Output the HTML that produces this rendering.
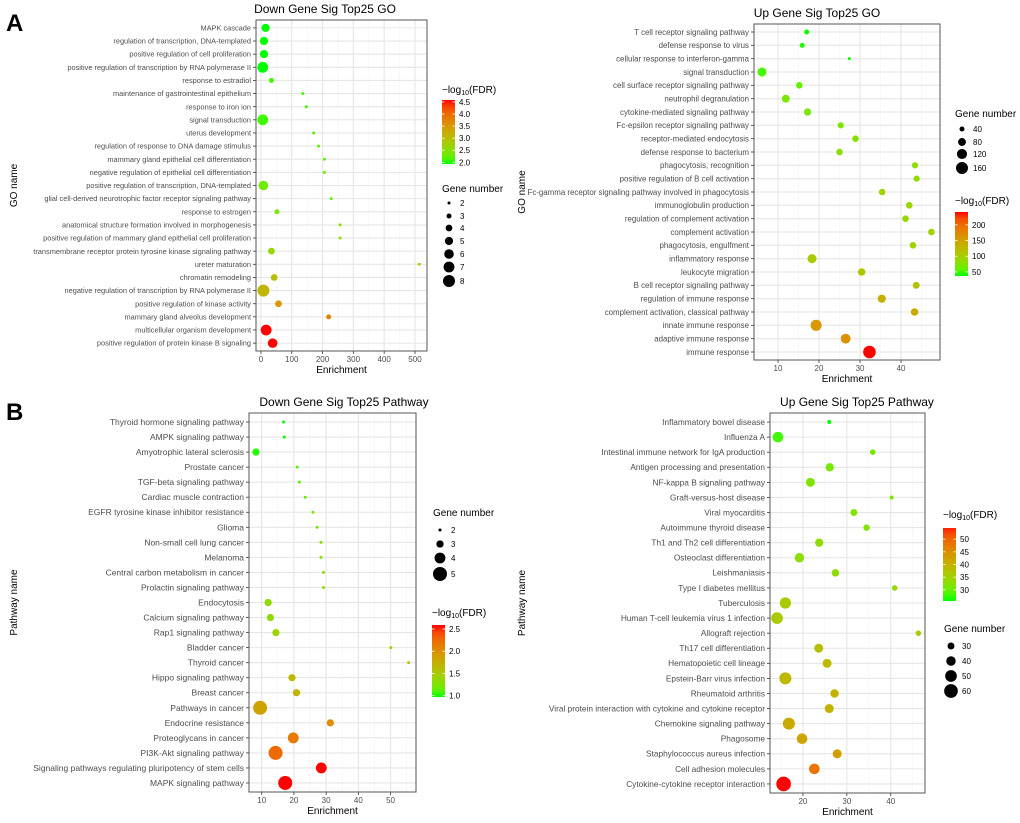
<!DOCTYPE html>
<html><head><meta charset="utf-8"><style>
html,body{margin:0;padding:0;background:#fff}
svg{display:block;font-family:"Liberation Sans",Arial,sans-serif}
</style></head><body>
<svg id="fig" width="1020" height="823" viewBox="0 0 1020 823" xmlns="http://www.w3.org/2000/svg">
<text x="6" y="31" font-size="24" font-weight="bold">A</text>
<text x="6" y="420" font-size="24" font-weight="bold">B</text>
</svg>
<script>
// ---- Panel A left: Down GO ----
const dgLabels=["MAPK cascade","regulation of transcription, DNA-templated","positive regulation of cell proliferation","positive regulation of transcription by RNA polymerase II","response to estradiol","maintenance of gastrointestinal epithelium","response to iron ion","signal transduction","uterus development","regulation of response to DNA damage stimulus","mammary gland epithelial cell differentiation","negative regulation of epithelial cell differentiation","positive regulation of transcription, DNA-templated","glial cell-derived neurotrophic factor receptor signaling pathway","response to estrogen","anatomical structure formation involved in morphogenesis","positive regulation of mammary gland epithelial cell proliferation","transmembrane receptor protein tyrosine kinase signaling pathway","ureter maturation","chromatin remodeling","negative regulation of transcription by RNA polymerase II","positive regulation of kinase activity","mammary gland alveolus development","multicellular organism development","positive regulation of protein kinase B signaling"];
const dgEnrich=[15,10,10,6,34,136,147,6,171,187,206,206,8,228,52,257,257,34,514,43,8,57,220,17,38];
const dgGenes=[5,5,5,7,3,2,2,7,2,2,2,2,6,2,3,2,2,4,2,4,8,4,3,7,6];
const dgFdr=[2.0,2.0,2.0,2.0,2.1,2.1,2.1,2.1,2.2,2.2,2.2,2.2,2.3,2.3,2.4,2.5,2.5,2.6,2.7,3.0,3.1,3.5,3.7,4.55,4.5];
const dgXTicks=[0,100,200,300,400,500];
const dgColorTicks=[2.0,2.5,3.0,3.5,4.0,4.5];
const dgSizeTicks=[2,3,4,5,6,7,8];
// ---- Panel A right: Up GO ----
const ugLabels=["T cell receptor signaling pathway","defense response to virus","cellular response to interferon-gamma","signal transduction","cell surface receptor signaling pathway","neutrophil degranulation","cytokine-mediated signaling pathway","Fc-epsilon receptor signaling pathway","receptor-mediated endocytosis","defense response to bacterium","phagocytosis, recognition","positive regulation of B cell activation","Fc-gamma receptor signaling pathway involved in phagocytosis","immunoglobulin production","regulation of complement activation","complement activation","phagocytosis, engulfment","inflammatory response","leukocyte migration","B cell receptor signaling pathway","regulation of immune response","complement activation, classical pathway","innate immune response","adaptive immune response","immune response"];
const ugEnrich=[17.0,15.9,27.4,6.1,15.2,11.9,17.2,25.3,28.9,25.0,43.4,43.8,35.4,42.0,41.1,47.4,42.9,18.3,30.4,43.7,35.3,43.3,19.3,26.5,32.3];
const ugGenes=[40,40,20,100,60,80,70,55,60,60,55,55,60,60,60,60,60,100,75,65,85,75,140,115,175];
const ugFdr=[40,42,40,50,60,70,75,75,80,80,85,85,90,90,90,95,95,105,110,115,135,140,160,165,240];
const ugXTicks=[10,20,30,40];
const ugColorTicks=[50,100,150,200];
const ugSizeTicks=[40,80,120,160];
// ---- Panel B left: Down Pathway ----
const dpLabels=["Thyroid hormone signaling pathway","AMPK signaling pathway","Amyotrophic lateral sclerosis","Prostate cancer","TGF-beta signaling pathway","Cardiac muscle contraction","EGFR tyrosine kinase inhibitor resistance","Glioma","Non-small cell lung cancer","Melanoma","Central carbon metabolism in cancer","Prolactin signaling pathway","Endocytosis","Calcium signaling pathway","Rap1 signaling pathway","Bladder cancer","Thyroid cancer","Hippo signaling pathway","Breast cancer","Pathways in cancer","Endocrine resistance","Proteoglycans in cancer","PI3K-Akt signaling pathway","Signaling pathways regulating pluripotency of stem cells","MAPK signaling pathway"];
const dpEnrich=[16.8,17.0,8.2,21.0,21.7,23.5,25.9,27.2,28.4,28.4,29.2,29.2,12.0,12.7,14.4,50.1,55.6,19.4,20.8,9.5,31.3,19.8,14.3,28.5,17.3];
const dpGenes=[2,2,3,2,2,2,2,2,2,2,2,2,3,3,3,2,2,3,3,5,3,4,5,4,5];
const dpFdr=[0.98,0.98,1.0,1.1,1.1,1.15,1.2,1.2,1.25,1.25,1.3,1.3,1.35,1.35,1.4,1.55,1.6,1.65,1.7,1.85,2.0,2.15,2.25,2.57,2.57];
const dpXTicks=[10,20,30,40,50];
const dpColorTicks=[1.0,1.5,2.0,2.5];
const dpSizeTicks=[2,3,4,5];
// ---- Panel B right: Up Pathway ----
const upLabels=["Inflammatory bowel disease","Influenza A","Intestinal immune network for IgA production","Antigen processing and presentation","NF-kappa B signaling pathway","Graft-versus-host disease","Viral myocarditis","Autoimmune thyroid disease","Th1 and Th2 cell differentiation","Osteoclast differentiation","Leishmaniasis","Type I diabetes mellitus","Tuberculosis","Human T-cell leukemia virus 1 infection","Allograft rejection","Th17 cell differentiation","Hematopoietic cell lineage","Epstein-Barr virus infection","Rheumatoid arthritis","Viral protein interaction with cytokine and cytokine receptor","Chemokine signaling pathway","Phagosome","Staphylococcus aureus infection","Cell adhesion molecules","Cytokine-cytokine receptor interaction"];
const upEnrich=[26.0,14.3,35.9,26.1,21.7,40.2,31.6,34.5,23.7,19.2,27.4,40.9,16.0,14.1,46.3,23.6,25.5,16.0,27.2,26.0,16.8,19.8,27.8,22.6,15.6];
const upGenes=[20,45,25,35,38,20,30,28,35,40,32,25,48,50,25,38,38,52,36,38,52,45,38,45,65];
const upFdr=[27,28,31,31,32,32,32,32,33,33,33,34,36,36,36,38,39,39,40,40,41,42,43,48,55];
const upXTicks=[20,30,40];
const upColorTicks=[30,35,40,45,50];
const upSizeTicks=[30,40,50,60];

const NS="http://www.w3.org/2000/svg";
const svg=document.getElementById('fig');
function mk(tag,attrs,parent){const e=document.createElementNS(NS,tag);for(const k in attrs)e.setAttribute(k,attrs[k]);(parent||svg).appendChild(e);return e;}
// Lab interpolation green->red (ggplot-like)
function s2l(c){c/=255;return c<=0.04045?c/12.92:Math.pow((c+0.055)/1.055,2.4);}
function l2s(c){c=c<=0.0031308?12.92*c:1.055*Math.pow(c,1/2.4)-0.055;return Math.max(0,Math.min(255,Math.round(c*255)));}
function toLab(r,g,b){r=s2l(r);g=s2l(g);b=s2l(b);let X=(0.4124*r+0.3576*g+0.1805*b)/0.95047,Y=0.2126*r+0.7152*g+0.0722*b,Z=(0.0193*r+0.1192*g+0.9505*b)/1.08883;const f=t=>t>0.008856?Math.cbrt(t):7.787*t+16/116;const fx=f(X),fy=f(Y),fz=f(Z);return[116*fy-16,500*(fx-fy),200*(fy-fz)];}
function fromLab(L,a,b){const fy=(L+16)/116,fx=fy+a/500,fz=fy-b/200;const fi=t=>t*t*t>0.008856?t*t*t:(t-16/116)/7.787;const X=fi(fx)*0.95047,Y=fi(fy),Z=fi(fz)*1.08883;const r=3.2406*X-1.5372*Y-0.4986*Z,g=-0.9689*X+1.8758*Y+0.0415*Z,bb=0.0557*X-0.2040*Y+1.0570*Z;return 'rgb('+l2s(r)+','+l2s(g)+','+l2s(bb)+')';}
const LG=toLab(0,255,0),LR=toLab(255,0,0);
function col(t){t=Math.max(0,Math.min(1,t));return fromLab(LG[0]+(LR[0]-LG[0])*t,LG[1]+(LR[1]-LG[1])*t,LG[2]+(LR[2]-LG[2])*t);}

function panel(p){
  const g=mk('g',{});
  
  
  const {x0,y0,x1,y1}=p.box;
  const xs=v=>x0+(v-p.xd[0])/(p.xd[1]-p.xd[0])*(x1-x0);
  const n=p.labels.length,step=(y1-y0)/(n-1+1.2);
  const ys=i=>y0+(0.6+i)*step;
  const cs=v=>(v-p.cd[0])/(p.cd[1]-p.cd[0]);
  const rs=v=>{const a=Math.sqrt(p.sd[0]),b=Math.sqrt(p.sd[1]);return p.rr[0]+(p.rr[1]-p.rr[0])*(Math.sqrt(v)-a)/(b-a);};
  mk('rect',{x:x0,y:y0,width:x1-x0,height:y1-y0,fill:'#fff'},g);
  // minor grid
  const dt=p.xt[1]-p.xt[0];
  for(let v=p.xt[0]-dt/2;v<=p.xd[1];v+=dt){if(v>=p.xd[0])mk('line',{x1:xs(v),x2:xs(v),y1:y0,y2:y1,stroke:'#f4f4f4','stroke-width':0.6},g);}
  p.xt.forEach(v=>{const l=mk('line',{x1:xs(v),x2:xs(v),y1:y0,y2:y1,stroke:'#e6e6e6','stroke-width':1.1},g);});
  p.labels.forEach((lab,i)=>{
    mk('line',{x1:x0,x2:x1,y1:ys(i),y2:ys(i),stroke:'#e6e6e6','stroke-width':1.1},g);
    mk('line',{x1:x0-3,x2:x0,y1:ys(i),y2:ys(i),stroke:'#333','stroke-width':0.8},g);
    const t=mk('text',{x:x0-5,y:ys(i)+p.fs*0.35,'font-size':p.fs,'text-anchor':'end',fill:'#4d4d4d'},g);
    t.textContent=lab;
    
    
  });
  p.xt.forEach(v=>{
    mk('line',{x1:xs(v),x2:xs(v),y1:y1,y2:y1+3,stroke:'#333','stroke-width':0.8},g);
    const t=mk('text',{x:xs(v),y:y1+11,'font-size':8,'text-anchor':'middle',fill:'#4d4d4d'},g);
    t.textContent=v;
    
    
  });
  mk('rect',{x:x0,y:y0,width:x1-x0,height:y1-y0,fill:'none',stroke:'#555','stroke-width':1},g);
  p.labels.forEach((lab,i)=>{
    const c=mk('circle',{cx:xs(p.en[i]),cy:ys(i),r:rs(p.gn[i]),fill:col(cs(p.fdr[i]))},g);
    
    
  });
  let t=mk('text',{x:p.titleX,y:y0-7,'font-size':12,'text-anchor':'middle',fill:'#000'},g);t.textContent=p.title;
  
  t=mk('text',{x:(x0+x1)/2,y:y1+22,'font-size':10,'text-anchor':'middle',fill:'#000'},g);t.textContent='Enrichment';
  
  t=mk('text',{x:p.ylx,y:(y0+y1)/2,'font-size':10,'text-anchor':'middle',fill:'#000',transform:'rotate(-90 '+p.ylx+' '+(y0+y1)/2+')'},g);t.textContent=p.ylab;
  
  // color legend
  const L=p.cl;
  t=mk('text',{x:L.x,y:L.ty,'font-size':10,fill:'#000'},g);
  t.innerHTML='\u2212log<tspan font-size="7" dy="2">10</tspan><tspan dy="-2">(FDR)</tspan>';
  
  const gid='grad'+p.name;
  const gr=mk('linearGradient',{id:gid,x1:0,y1:1,x2:0,y2:0},mk('defs',{},g));
  for(let k=0;k<=10;k++){const v=L.lo+(L.hi-L.lo)*k/10;mk('stop',{offset:k/10,'stop-color':col(cs(v))},gr);}
  const cb=mk('rect',{x:L.x,y:L.y0,width:13,height:L.y1-L.y0,fill:'url(#'+gid+')'},g);
  
  const cy=v=>L.y1-(v-L.lo)/(L.hi-L.lo)*(L.y1-L.y0);
  p.ct.forEach(v=>{
    mk('line',{x1:L.x,x2:L.x+2.5,y1:cy(v),y2:cy(v),stroke:'#fff','stroke-width':0.8},g);
    mk('line',{x1:L.x+10.5,x2:L.x+13,y1:cy(v),y2:cy(v),stroke:'#fff','stroke-width':0.8},g);
    const tt=mk('text',{x:L.x+17,y:cy(v)+3,'font-size':8,fill:'#000'},g);tt.textContent=p.cfmt(v);
    
  });
  // size legend
  const S=p.sl;
  t=mk('text',{x:S.x,y:S.ty,'font-size':10,fill:'#000'},g);t.textContent='Gene number';
  
  p.st.forEach((v,k)=>{
    const yy=S.ys[k];
    const c=mk('circle',{cx:S.x+7,cy:yy,r:rs(v),fill:'#000'},g);
    
    const tt=mk('text',{x:S.x+18,y:yy+3,'font-size':8,fill:'#000'},g);tt.textContent=v;
    
  });
}
const f1=v=>v.toFixed(1), f0=v=>String(v);
panel({name:'down-go-chart',title:'Down Gene Sig Top25 GO',titleX:325,ylab:'GO name',ylx:17,fs:7.4,
 box:{x0:256,y0:20,x1:427,y1:351},xd:[-16,539],xt:dgXTicks,labels:dgLabels,en:dgEnrich,gn:dgGenes,fdr:dgFdr,
 cd:[2.0,4.5],sd:[2,8],rr:[1.5,6],ct:dgColorTicks,cfmt:f1,st:dgSizeTicks,
 cl:{x:442,ty:93,y0:100,y1:164,lo:1.93,hi:4.58},sl:{x:442,ty:192,ys:[203,216,228,241,254,267,281]}});
panel({name:'up-go-chart',title:'Up Gene Sig Top25 GO',titleX:817,ylab:'GO name',ylx:525,fs:7.9,
 box:{x0:754,y0:24,x1:940,y1:360},xd:[4.15,49.5],xt:ugXTicks,labels:ugLabels,en:ugEnrich,gn:ugGenes,fdr:ugFdr,
 cd:[40,240],sd:[20,175],rr:[1.5,6.3],ct:ugColorTicks,cfmt:f0,st:ugSizeTicks,
 cl:{x:955,ty:204,y0:212,y1:276,lo:37,hi:241},sl:{x:955,ty:117,ys:[129,142,154,168]}});
panel({name:'down-pathway-chart',title:'Down Gene Sig Top25 Pathway',titleX:344,ylab:'Pathway name',ylx:17,fs:8.5,
 box:{x0:249,y0:413,x1:416,y1:792},xd:[6.05,57.9],xt:dpXTicks,labels:dpLabels,en:dpEnrich,gn:dpGenes,fdr:dpFdr,
 cd:[0.98,2.57],sd:[2,5],rr:[1.5,7],ct:dpColorTicks,cfmt:f1,st:dpSizeTicks,
 cl:{x:432,ty:616,y0:625,y1:697,lo:0.97,hi:2.59},sl:{x:433,ty:516,ys:[530,544,558,574]}});
panel({name:'up-pathway-chart',title:'Up Gene Sig Top25 Pathway',titleX:857,ylab:'Pathway name',ylx:525,fs:8.3,
 box:{x0:770,y0:413,x1:925,y1:793},xd:[12.5,47.8],xt:upXTicks,labels:upLabels,en:upEnrich,gn:upGenes,fdr:upFdr,
 cd:[27,55],sd:[20,65],rr:[2,7.3],ct:upColorTicks,cfmt:f0,st:upSizeTicks,
 cl:{x:943,ty:518,y0:528,y1:601,lo:25.6,hi:54.4},sl:{x:944,ty:632,ys:[646,661,676,691]}});
</script>
</body></html>
